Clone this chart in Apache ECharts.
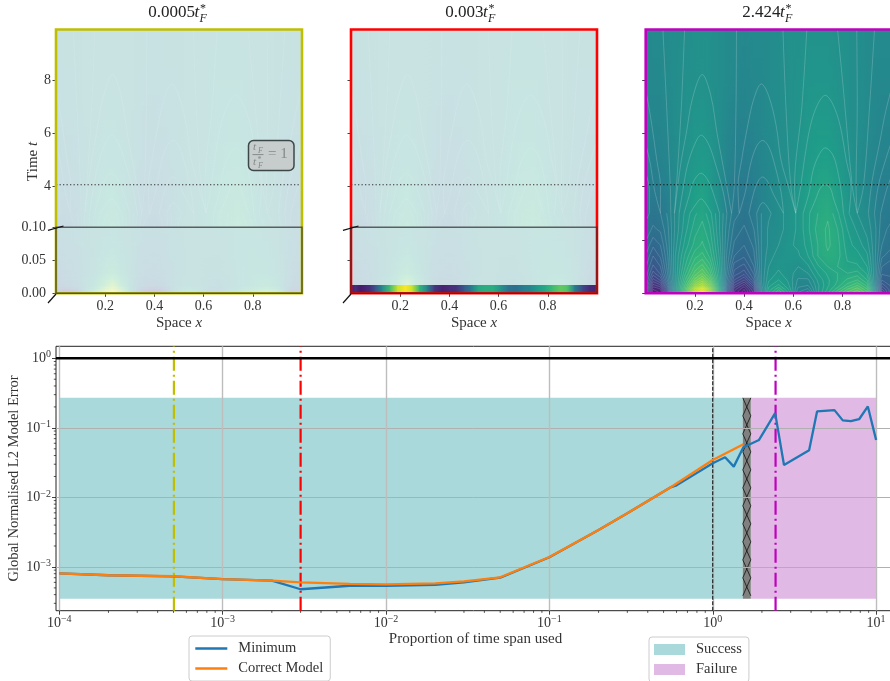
<!DOCTYPE html>
<html><head><meta charset="utf-8">
<style>html,body{margin:0;padding:0;background:#fff;overflow:hidden}#c{width:890px;height:681px}</style>
<script src="https://cdn.jsdelivr.net/npm/echarts@6/dist/echarts.min.js"></script>
</head><body><div id="c"></div>
<script>
// ---------- field readings (value x 100 on the viridis scale) ----------
const fieldX = [0,.03,.06,.09,.12,.16,.2,.23,.26,.3,.33,.36,.4,.44,.47,.5,.54,.58,.62,.66,.7,.74,.78,.82,.86,.9,.93,.96,1];
const fieldT = [0,.15,.3,.5,.75,1,1.4,1.8,2.4,3,4,5,6.5,8,10];
const fieldRows = [
[25,8,10,25,50,72,92,100,88,58,32,14,8,18,42,58,66,58,42,38,52,60,68,74,78,72,50,18,30],
[28,10,12,28,50,70,88,96,85,58,34,16,10,20,42,56,62,55,44,42,52,58,64,70,74,68,48,22,30],
[30,14,17,32,50,68,82,88,80,56,36,20,14,24,44,54,58,53,46,45,52,57,61,66,70,64,47,26,31],
[31,19,23,36,50,65,76,81,74,55,38,25,20,30,45,52,55,52,47,47,53,57,60,63,65,60,46,30,32],
[32,24,28,38,50,62,71,75,69,54,40,29,26,33,45,51,53,51,49,50,55,58,60,60,61,57,46,33,33],
[33,27,30,39,50,60,68,71,66,53,41,31,29,35,45,50,52,51,50,52,57,60,60,58,58,55,46,35,33],
[35,30,33,40,50,58,64,66,62,52,42,35,33,37,45,49,51,52,52,55,60,62,61,57,56,53,46,38,36],
[37,33,35,41,49,56,61,63,60,51,43,37,35,38,45,48,50,52,53,56,60,63,61,56,54,51,46,40,38],
[39,37,38,42,48,54,59,61,58,50,44,39,37,40,45,48,49,51,53,57,61,63,60,55,52,49,46,41,39],
[41,39,40,43,48,53,57,59,56,50,45,41,39,41,45,47,49,51,53,57,60,62,58,53,50,48,45,42,41],
[43,42,43,45,48,52,55,57,54,49,45,42,41,43,45,47,49,50,53,56,58,59,56,52,49,47,45,43,43],
[45,44,45,46,48,51,53,54,53,49,46,44,43,44,46,47,49,50,52,54,56,56,54,51,49,47,46,45,45],
[46,46,46,47,49,50,52,52,51,49,47,45,45,46,47,48,49,50,51,53,54,54,52,50,49,48,47,46,46],
[47,47,47,48,49,50,50,51,50,49,48,47,46,47,47,48,49,50,51,52,52,52,51,50,49,48,47,47,47],
[47,48,48,48,49,49,50,50,50,49,48,48,47,48,48,48,49,50,50,51,51,51,50,50,49,48,48,48,48]
];
const insetT = [0,.0115,.03,.06,.1];
const insetRows = [
[25,8,10,25,50,72,92,100,88,58,32,14,8,18,42,58,66,58,42,38,52,60,68,74,78,72,50,18,30],
[30,35,38,42,48,58,72,82,70,52,40,36,34,38,44,48,52,50,46,44,48,52,55,58,60,55,46,38,34],
[36,38,40,43,47,52,60,64,58,50,43,40,39,42,45,47,50,50,48,47,49,52,54,55,55,52,46,41,37],
[40,42,43,45,47,50,54,56,53,49,45,43,42,44,46,47,49,50,49,49,51,53,54,54,53,50,46,43,40],
[44,45,46,47,48,50,51,52,51,49,47,46,45,46,47,48,49,50,50,51,51,52,52,52,51,49,47,45,44]
];
const stripX = [0,.02,.04,.06,.08,.1,.13,.16,.19,.22,.25,.28,.31,.34,.37,.4,.43,.46,.49,.52,.55,.58,.61,.64,.67,.7,.73,.76,.79,.82,.85,.88,.91,.94,.97,1];
const stripVals = [8,14,7,10,14,26,48,70,92,100,92,66,44,16,9,12,14,28,42,60,62,62,50,38,36,42,46,54,60,68,76,72,44,22,12,10];
const strip1Top = .0018, strip2Top = .0115;
const contourLevels = [];
for (let l = 2.5; l < 100; l += 2.5) contourLevels.push(l / 100);
const contourCutRows = 10; // rows of the table whose contours are traced; higher up the arcs below are used
const contourArcs = [
[[.125,3],[.13,4],[.145,5],[.165,6],[.19,7.3],[.23,8.2],[.265,7.4],[.29,6],[.31,5],[.33,4],[.34,3]],
[[.14,3],[.15,3.8],[.17,4.8],[.2,5.6],[.225,5.93],[.255,5.6],[.285,4.8],[.315,3.8],[.325,3]],
[[.165,3],[.175,3.6],[.195,4.2],[.225,4.5],[.255,4.2],[.28,3.6],[.3,3]],
[[.19,3],[.205,3.35],[.225,3.54],[.245,3.35],[.265,3]],
[[.37,3],[.375,4],[.39,5],[.415,6.3],[.44,7.3],[.47,7.85],[.5,7.4],[.53,6.3],[.55,5],[.58,4],[.59,3]],
[[.395,3],[.405,3.8],[.425,4.8],[.45,5.5],[.475,5.73],[.5,5.5],[.525,4.8],[.55,3.8],[.565,3]],
[[.42,3],[.44,3.8],[.46,4.25],[.475,4.36],[.495,4.2],[.52,3.7],[.54,3]],
[[.45,3],[.465,3.3],[.477,3.4],[.49,3.3],[.51,3]],
[[.62,3],[.63,4],[.645,5],[.67,6.3],[.7,7.1],[.73,7.42],[.76,7.1],[.79,6.3],[.815,5],[.835,4],[.84,3]],
[[.65,3],[.665,3.8],[.68,4.6],[.705,5.2],[.73,5.45],[.76,5.2],[.78,4.6],[.795,3.8],[.81,3]],
[[.675,3],[.69,3.5],[.71,3.95],[.73,4.07],[.75,3.95],[.765,3.5],[.78,3]],
[[0,7.63],[.02,6.6],[.045,5],[.06,4],[.07,3]],
[[0,5.6],[.02,4.8],[.035,3.9],[.05,3]],
[[0,4.5],[.015,3.9],[.03,3]],
[[1,7.7],[.975,6.8],[.95,5.6],[.92,4.2],[.905,3]],
[[1,5.7],[.975,5],[.945,4],[.93,3]],
[[1,4.4],[.98,3.9],[.955,3]],
[[.07,9.89],[.085,7],[.1,4],[.105,3]],
[[.158,9.89],[.145,7],[.125,4],[.118,3]],
[[.369,9.89],[.367,7],[.36,4],[.355,3]],
[[.558,9.89],[.57,7],[.59,4],[.598,3]],
[[.655,9.89],[.635,7],[.605,4],[.605,3]],
[[.78,9.89],[.805,7.5],[.84,4],[.845,3]],
[[.858,9.89],[.86,7],[.855,4],[.855,3]],
[[.93,9.89],[.91,7],[.885,4],[.875,3]]
];
const viridisStops = [[68,1,84],[72,40,120],[62,74,137],[49,104,142],[38,130,142],[31,158,137],[53,183,121],[109,205,89],[180,222,44],[253,231,37]];

// ---------- panel ticks and labels ----------
const spaceTicks = [.2,.4,.6,.8];
const mainTimeTicks = [4,6,8];
const thirdTimeTicks = [0,2,4,6,8];
const insetTicks = [0,.05,.1];
const dottedT = 4.07;
const timeMax = 9.89;
const panelTitles = ['0.0005','0.003','2.424'];

// ---------- bottom chart ----------
const minX = [1e-4,2e-4,5e-4,1e-3,2e-3,3e-3,6e-3,1e-2,2e-2,3e-2,5e-2,1e-1,2e-1,3e-1,5.5e-1,6e-1,1,1.19,1.345,1.54,1.92,2.41,2.73,3.89,4.35,5.56,6.25,7,7.87,8.9,10];
const minY = [8.1e-4,7.6e-4,7.3e-4,6.7e-4,6.35e-4,4.78e-4,5.37e-4,5.35e-4,5.55e-4,6.0e-4,7.0e-4,1.38e-3,3.4e-3,5.9e-3,.0139,.0149,.031,.0377,.0277,.0526,.067,.163,.0292,.0477,.172,.18,.128,.125,.133,.203,.067];
const corX = [1e-4,2e-4,5e-4,1e-3,2e-3,3e-3,6e-3,1e-2,2e-2,3e-2,5e-2,1e-1,2e-1,3e-1,5.5e-1,1,1.54];
const corY = [8.1e-4,7.6e-4,7.35e-4,6.7e-4,6.35e-4,6.0e-4,5.7e-4,5.6e-4,5.8e-4,6.2e-4,7.1e-4,1.39e-3,3.4e-3,5.9e-3,.0139,.0346,.058];
const xMajor = [1e-4,1e-3,1e-2,1e-1,1,10];
const yMajor = [1e-3,1e-2,1e-1,1];
const xLo = 9.546e-5, xHi = 13.05, yLo = 2.35e-4, yHi = 1.488;
const successZone = [1e-4,1.527,3.48e-4,.27];
const crossZone = [1.527,1.71,3.48e-4,.27];
const failureZone = [1.71,10,3.48e-4,.27];
const marker1 = 5.03e-4, marker2 = 3e-3, marker3 = 2.424, unitLine = 1, unitErr = 1;

const FONT = '"Liberation Serif","DejaVu Serif",serif';
const TXT = '#333';
const DASHDOT = [14,4,2,4];
const TEAL = '#a9d9da', PURPLE = '#e0bae4';

function viridis(v){
  v = Math.min(1,Math.max(0,v)) * (viridisStops.length-1);
  const i = Math.min(viridisStops.length-2,Math.floor(v)), f = v-i;
  return viridisStops[i].map((c,k)=>c+(viridisStops[i+1][k]-c)*f);
}
function fieldColor(v,alpha){
  const c = viridis(v).map(x=>Math.round(255*(1-alpha)+x*alpha));
  return 'rgb('+c.join(',')+')';
}
function cells(xs,ts,rows){
  const out=[];
  for(let j=0;j<ts.length-1;j++)for(let i=0;i<xs.length-1;i++)
    out.push([xs[i],xs[i+1],ts[j],ts[j+1],rows[j][i]/100,rows[j][i+1]/100,rows[j+1][i]/100,rows[j+1][i+1]/100]);
  return out;
}
function fieldSeries(g,xs,ts,rows,alpha,z){
  return {type:'custom',xAxisIndex:g,yAxisIndex:g,coordinateSystem:'cartesian2d',silent:true,z,clip:true,
    encode:{x:[0,1],y:[2,3]},data:cells(xs,ts,rows),
    renderItem(p,api){
      const a=api.coord([api.value(0),api.value(2)]), b=api.coord([api.value(1),api.value(3)]);
      const v00=api.value(4),v10=api.value(5),v01=api.value(6),v11=api.value(7);
      const yBot=Math.ceil(a[1]), yTop=Math.floor(b[1]), xL=Math.floor(a[0]), xR=Math.ceil(b[0]);
      const n=Math.max(1,Math.ceil((yBot-yTop)/2)),ch=[];
      for(let k=0;k<n;k++){
        const f=(k+.5)/n,l=v00+(v01-v00)*f,r=v10+(v11-v10)*f;
        const y1=Math.round(yBot-(k+1)*(yBot-yTop)/n), y0=Math.round(yBot-k*(yBot-yTop)/n);
        ch.push({type:'rect',shape:{x:xL,y:y1,width:xR-xL,height:y0-y1},
          style:{fill:new echarts.graphic.LinearGradient(0,0,1,0,[{offset:0,color:fieldColor(l,alpha)},{offset:1,color:fieldColor(r,alpha)}])}});
      }
      return {type:'group',children:ch};
    }};
}
function contourSeries(g,xs,ts,rows,stroke,z){
  return {type:'custom',xAxisIndex:g,yAxisIndex:g,coordinateSystem:'cartesian2d',silent:true,z,clip:true,
    encode:{x:[0,1],y:[2,3]},data:cells(xs,ts,rows),
    renderItem(p,api){
      const x0=api.value(0),x1=api.value(1),t0=api.value(2),t1=api.value(3);
      const a=api.value(4),b=api.value(5),c=api.value(6),d=api.value(7),ch=[];
      const edge=(u,v,L,P,Q)=>{ if((u<L)===(v<L))return null; const f=(L-u)/(v-u); return api.coord([P[0]+(Q[0]-P[0])*f,P[1]+(Q[1]-P[1])*f]); };
      contourLevels.forEach(L=>{
        const pts=[edge(a,b,L,[x0,t0],[x1,t0]),edge(b,d,L,[x1,t0],[x1,t1]),edge(d,c,L,[x1,t1],[x0,t1]),edge(c,a,L,[x0,t1],[x0,t0])].filter(Boolean);
        for(let i=0;i+1<pts.length;i+=2)
          ch.push({type:'line',shape:{x1:pts[i][0],y1:pts[i][1],x2:pts[i+1][0],y2:pts[i+1][1]},style:{stroke,lineWidth:.6,fill:null}});
      });
      return {type:'group',children:ch};
    }};
}
// Where the traced contours stop (top row of the traced part), the hand-read arcs are joined to the nearest contour end.
const cutEnds=[];
{
  const row=fieldRows[contourCutRows-1];
  contourLevels.forEach(L=>{
    for(let i=0;i<row.length-1;i++){
      const u=row[i]/100,v=row[i+1]/100;
      if((u<L)!==(v<L)) cutEnds.push(fieldX[i]+(fieldX[i+1]-fieldX[i])*(L-u)/(v-u));
    }
  });
}
const joinedArcs=contourArcs.map(arc=>arc.map(p=>{
  if(p[1]!==fieldT[contourCutRows-1]) return p;
  let best=p[0],d=.03;
  cutEnds.forEach(x=>{ if(Math.abs(x-p[0])<d){d=Math.abs(x-p[0]);best=x;} });
  return [best,p[1]];
}));
function arcSeries(g,stroke){
  return joinedArcs.map(arc=>({type:'line',xAxisIndex:g,yAxisIndex:g,data:arc,symbol:'none',smooth:.35,silent:true,z:3,clip:true,
    lineStyle:{color:stroke,width:.7}}));
}

const PANEL_W=246, MAIN_TOP=29.5, MAIN_H=263.8, INSET_TOP=227.3, INSET_H=66;
const panelLeft=[56,351,645.7], panelColor=['#bfbf00','#ff0000','#bf00bf'];
const grids=[], xAxes=[], yAxes=[], series=[];
const lowT=fieldT.slice(0,contourCutRows), lowRows=fieldRows.slice(0,contourCutRows);

function panelAxes(px,main,showLabel,ticks,labelTicks,name){
  grids.push({left:px,top:main?MAIN_TOP:INSET_TOP,width:PANEL_W,height:main?MAIN_H:INSET_H,containLabel:false,outerBoundsMode:'none'});
  xAxes.push({gridIndex:grids.length-1,type:'value',min:0,max:1,show:main,z:6,
    name:'Space {i|x}',nameLocation:'middle',nameGap:22,
    nameTextStyle:{fontFamily:FONT,fontSize:15,color:TXT,rich:{i:{fontFamily:FONT,fontStyle:'italic',fontSize:15,color:TXT}}},
    axisLine:{show:false},splitLine:{show:false},
    axisTick:{length:3.5,lineStyle:{color:'#111',width:.8},customValues:spaceTicks},
    axisLabel:{customValues:spaceTicks,formatter:v=>v.toFixed(1),fontFamily:FONT,fontSize:14,color:TXT,margin:6}});
  yAxes.push({gridIndex:grids.length-1,type:'value',min:0,max:main?timeMax:.1,z:6,
    name:name||'',nameLocation:'middle',nameGap:15,nameRotate:90,
    nameTextStyle:{fontFamily:FONT,fontSize:15,color:TXT,rich:{i:{fontFamily:FONT,fontStyle:'italic',fontSize:15,color:TXT}}},
    axisLine:{show:false},splitLine:{show:false},
    axisTick:{length:3.5,lineStyle:{color:'#111',width:.8},customValues:ticks},
    axisLabel:{show:showLabel,customValues:labelTicks||ticks,formatter:v=>main?String(v):v.toFixed(2),fontFamily:FONT,fontSize:14,color:TXT,margin:main?5:10}});
  return grids.length-1;
}
function dotted(g,color){
  return {type:'line',xAxisIndex:g,yAxisIndex:g,data:[[0,dottedT],[1,dottedT]],symbol:'none',z:5,silent:true,lineStyle:{color,width:1.2,type:[1.3,2.2]}};
}

// panel 1
let g=panelAxes(panelLeft[0],true,true,mainTimeTicks,null,'Time {i|t}');
series.push(fieldSeries(g,fieldX,fieldT,fieldRows,.25,2),contourSeries(g,fieldX,lowT,lowRows,'rgba(255,255,255,.1)',3),...arcSeries(g,'rgba(255,255,255,.14)'),dotted(g,'#333'));
g=panelAxes(panelLeft[0],false,true,insetTicks,null);
series.push(fieldSeries(g,fieldX,insetT,insetRows,.25,6),fieldSeries(g,stripX,[0,strip1Top],[stripVals,stripVals],1,7));
// panel 2
g=panelAxes(panelLeft[1],true,false,mainTimeTicks);
series.push(fieldSeries(g,fieldX,fieldT,fieldRows,.25,2),contourSeries(g,fieldX,lowT,lowRows,'rgba(255,255,255,.1)',3),...arcSeries(g,'rgba(255,255,255,.14)'),dotted(g,'#333'));
g=panelAxes(panelLeft[1],false,false,[.05]);
series.push(fieldSeries(g,fieldX,insetT,insetRows,.25,6),fieldSeries(g,stripX,[0,strip2Top],[stripVals,stripVals],1,7));
// panel 3
g=panelAxes(panelLeft[2],true,false,thirdTimeTicks);
series.push(fieldSeries(g,fieldX,fieldT,fieldRows,1,2),contourSeries(g,fieldX,lowT,lowRows,'rgba(255,255,255,.25)',3),...arcSeries(g,'rgba(255,255,255,.27)'),dotted(g,'#111'));

// bottom chart
const B=grids.length;
grids.push({left:56,top:346.3,width:839,height:264.4,show:true,borderColor:'#222',borderWidth:1,backgroundColor:'transparent',outerBoundsMode:'none'});
const supRich={b:{fontFamily:FONT,fontSize:14,color:TXT},s:{fontFamily:FONT,fontSize:10,color:TXT,padding:[0,0,7,0]}};
const logLabel=v=>'{b|10}{s|'+String(Math.round(Math.log10(v))).replace('-','\u2212')+'}';
xAxes.push({gridIndex:B,type:'log',logBase:10,min:xLo,max:xHi,z:1,
  name:'Proportion of time span used',nameLocation:'middle',nameGap:21,
  nameTextStyle:{fontFamily:FONT,fontSize:15,color:TXT},
  axisLine:{show:false},
  axisTick:{length:4,lineStyle:{color:'#111',width:.8},customValues:xMajor},
  splitLine:{show:true,lineStyle:{color:'#bdbdbd',width:1.4}},
  axisLabel:{customValues:xMajor,formatter:logLabel,rich:supRich,margin:4,hideOverlap:false}});
yAxes.push({gridIndex:B,type:'log',logBase:10,min:yLo,max:yHi,z:1,
  name:'Global Normalised L2 Model Error',nameLocation:'middle',nameGap:34.5,nameRotate:90,nameMoveOverlap:false,
  nameTextStyle:{fontFamily:FONT,fontSize:14.5,color:TXT},
  axisLine:{show:false},
  axisTick:{length:4,lineStyle:{color:'#111',width:.8},customValues:yMajor},
  splitLine:{show:true,lineStyle:{color:'#b0b0b0',width:1}},
  axisLabel:{customValues:yMajor,formatter:logLabel,rich:supRich,margin:5,hideOverlap:false}});

function zone(name,box,color,hatch,z){
  return {type:'custom',name,xAxisIndex:B,yAxisIndex:B,coordinateSystem:'cartesian2d',silent:true,z,
    itemStyle:{color},encode:{x:[0,1],y:[2,3]},data:[box],
    renderItem(p,api){
      const a=api.coord([api.value(0),api.value(2)]),b=api.coord([api.value(1),api.value(3)]);
      const ch=[{type:'rect',shape:{x:a[0],y:b[1],width:b[0]-a[0],height:a[1]-b[1]},style:{fill:color}}];
      if(hatch){
        const pa=[],pb=[];let k=0;
        for(let y=b[1];y<=a[1]+.01;y+=18,k++){pa.push([k%2?b[0]:a[0],y]);pb.push([k%2?a[0]:b[0],y]);}
        ch.push({type:'polyline',shape:{points:pa},style:{stroke:'#111',lineWidth:.8,fill:null}},
                {type:'polyline',shape:{points:pb},style:{stroke:'#111',lineWidth:.8,fill:null}});
      }
      return {type:'group',children:ch};
    }};
}
series.push(zone('Success',successZone,TEAL,false,0),zone('Failure',failureZone,PURPLE,false,0),zone('Transition',crossZone,'#808080',true,0));

const vert=(x,color,width,type,z)=>({type:'line',xAxisIndex:B,yAxisIndex:B,data:[[x,yLo],[x,yHi]],symbol:'none',silent:true,z:z||3,lineStyle:{color,width,type}});
series.push(
  vert(marker1,'#bfbf00',2.2,DASHDOT),
  vert(marker2,'#ff0000',2.2,DASHDOT),
  vert(marker3,'#bf00bf',2.2,DASHDOT),
  vert(unitLine,'#111',1.1,[4,1.5]),
  {type:'line',xAxisIndex:B,yAxisIndex:B,data:[[xLo,unitErr],[xHi,unitErr]],symbol:'none',silent:true,z:3,lineStyle:{color:'#000',width:2.5}},
  {type:'line',name:'Minimum',xAxisIndex:B,yAxisIndex:B,data:minX.map((x,i)=>[x,minY[i]]),symbol:'none',silent:true,z:4,color:'#1f77b4',lineStyle:{color:'#1f77b4',width:2.3}},
  {type:'line',name:'Correct Model',xAxisIndex:B,yAxisIndex:B,data:corX.map((x,i)=>[x,corY[i]]),symbol:'none',silent:true,z:5,color:'#ff7f0e',lineStyle:{color:'#ff7f0e',width:2.3}}
);
// minor ticks on the log axes
const xMinor=[],yMinor=[];
for(let e=-4;e<=1;e++)for(let m=2;m<=9;m++){const v=m*Math.pow(10,e);if(v>xLo&&v<xHi)xMinor.push(v);}
for(let e=-4;e<=0;e++)for(let m=2;m<=9;m++){const v=m*Math.pow(10,e);if(v>yLo&&v<yHi)yMinor.push(v);}
function minorTicks(vals,isX){
  return {type:'custom',xAxisIndex:B,yAxisIndex:B,coordinateSystem:'cartesian2d',silent:true,clip:false,z:2,
    encode:isX?{x:0}:{y:0},data:vals.map(v=>[v]),
    renderItem(p,api){
      const v=api.value(0);
      const c=isX?api.coord([v,yLo]):api.coord([xLo,v]);
      return {type:'line',shape:isX?{x1:c[0],y1:c[1],x2:c[0],y2:c[1]+2.2}:{x1:c[0],y1:c[1],x2:c[0]-2.2,y2:c[1]},style:{stroke:'#111',lineWidth:.7}};
    }};
}
series.push(minorTicks(xMinor,true),minorTicks(yMinor,false));

// ---------- frames, titles and annotation ----------
const gfx=[];
const Z=100;
panelLeft.forEach((px,i)=>{
  gfx.push({type:'rect',z:Z,silent:true,shape:{x:px,y:MAIN_TOP,width:PANEL_W,height:MAIN_H},style:{fill:'none',stroke:panelColor[i],lineWidth:2.6}});
  if(i<2){
    gfx.push({type:'rect',z:Z+1,silent:true,shape:{x:px,y:INSET_TOP,width:PANEL_W,height:INSET_H},style:{fill:'none',stroke:'rgba(45,45,45,.72)',lineWidth:1.4}});
    gfx.push({type:'line',z:Z+2,silent:true,shape:{x1:px-8,y1:230.3,x2:px+7.5,y2:226},style:{stroke:'#111',lineWidth:1.2}});
    gfx.push({type:'line',z:Z+2,silent:true,shape:{x1:px-8,y1:303,x2:px,y2:294},style:{stroke:'#111',lineWidth:1.2}});
  }
});
const titleAnchor=[195,483.5,780.5];
panelTitles.forEach((t,i)=>{
  const x=titleAnchor[i];
  gfx.push({type:'text',z:Z,silent:true,style:{x,y:21,text:t,textAlign:'right',textVerticalAlign:'bottom',font:'17px '+FONT,fill:'#222'}});
  gfx.push({type:'text',z:Z,silent:true,style:{x:x-.5,y:21,text:'t',textAlign:'left',textVerticalAlign:'bottom',font:'italic 17px '+FONT,fill:'#222'}});
  gfx.push({type:'text',z:Z,silent:true,style:{x:x+5,y:15,text:'*',textAlign:'left',textVerticalAlign:'bottom',font:'12px '+FONT,fill:'#222'}});
  gfx.push({type:'text',z:Z,silent:true,style:{x:x+4.5,y:25,text:'F',textAlign:'left',textVerticalAlign:'bottom',font:'italic 12px '+FONT,fill:'#222'}});
});
const AC='#838a8a';
gfx.push({type:'rect',z:Z+3,silent:true,shape:{x:248.5,y:140.5,width:45.5,height:30,r:5},style:{fill:'#c7cdcd',stroke:'#3c4848',lineWidth:1.5}});
[[253,153,'t',11],[258,155,'F',8],[253,168,'t',11],[258,170,'F',8]].forEach(a=>gfx.push({type:'text',z:Z+4,silent:true,style:{x:a[0],y:a[1],text:a[2],textAlign:'left',textVerticalAlign:'bottom',font:'italic '+a[3]+'px '+FONT,fill:AC}}));
gfx.push({type:'text',z:Z+4,silent:true,style:{x:257.5,y:164,text:'*',textAlign:'left',textVerticalAlign:'bottom',font:'8px '+FONT,fill:AC}});
gfx.push({type:'line',z:Z+4,silent:true,shape:{x1:252.5,y1:154.6,x2:263.5,y2:154.6},style:{stroke:AC,lineWidth:1}});
gfx.push({type:'text',z:Z+4,silent:true,style:{x:268,y:162,text:'= 1',textAlign:'left',textVerticalAlign:'bottom',font:'15px '+FONT,fill:AC}});

const chart=echarts.init(document.getElementById('c'),null,{renderer:'canvas'});
chart.setOption({
  animation:false,backgroundColor:'#fff',tooltip:{show:false},
  grid:grids,xAxis:xAxes,yAxis:yAxes,series,graphic:{elements:gfx},
  legend:[
    {left:189,top:636,height:80,orient:'vertical',padding:[5,7,5,5],itemGap:5,itemWidth:32,itemHeight:14,backgroundColor:'#fff',borderColor:'#ccc',borderWidth:1,borderRadius:3,align:'left',z:50,
      itemStyle:{opacity:0},lineStyle:{width:2.6},
      data:['Minimum','Correct Model'],textStyle:{fontFamily:FONT,fontSize:14.5,color:TXT,padding:[0,0,0,6]},selectedMode:false},
    {left:649,top:637,height:80,orient:'vertical',padding:[5,7,5,5],itemGap:5,itemWidth:31,itemHeight:11,backgroundColor:'#fff',borderColor:'#ccc',borderWidth:1,borderRadius:3,align:'left',z:50,
      data:[{name:'Success',icon:'rect',itemStyle:{color:TEAL}},{name:'Failure',icon:'rect',itemStyle:{color:PURPLE}}],textStyle:{fontFamily:FONT,fontSize:14.5,color:TXT,padding:[0,0,0,6]},selectedMode:false}
  ]
});
</script></body></html>
